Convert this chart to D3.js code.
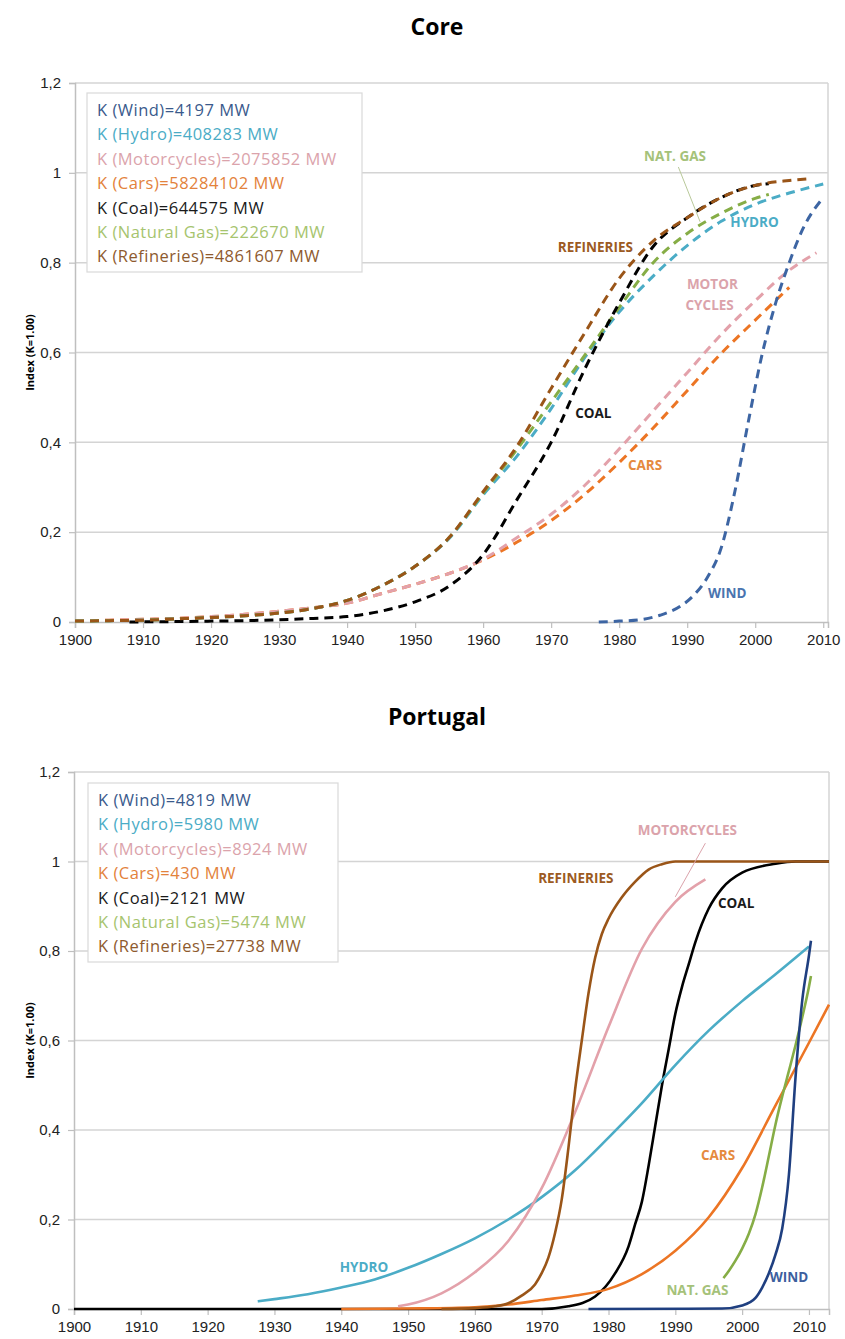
<!DOCTYPE html>
<html>
<head>
<meta charset="utf-8">
<script src="https://cdn.jsdelivr.net/npm/d3@7"></script>
<style>
  body { margin: 0; background: #fff; }
</style>
</head>
<body>
<script>
// ---- Core (dashed curves), [year, index]
const coreWind = [[1977,0],[1980,0.002],[1983,0.005],[1986,0.015],[1989,0.035],[1991,0.06],[1993,0.1],[1995,0.165],[1997,0.29],[1999,0.447],[2001,0.595],[2003,0.71],[2005,0.8],[2007,0.875],[2010,0.945]];
const coreHydro = [[1900,0.002],[1905,0.003],[1910,0.004],[1915,0.007],[1920,0.01],[1925,0.014],[1930,0.02],[1935,0.03],[1940,0.048],[1945,0.08],[1950,0.124],[1955,0.186],[1960,0.283],[1965,0.37],[1970,0.475],[1975,0.59],[1980,0.69],[1985,0.77],[1990,0.838],[1995,0.892],[2000,0.93],[2005,0.955],[2010,0.975]];
const coreMotorcycles = [[1900,0.003],[1905,0.004],[1910,0.006],[1915,0.008],[1920,0.012],[1925,0.017],[1930,0.024],[1935,0.032],[1940,0.042],[1945,0.063],[1950,0.084],[1955,0.108],[1960,0.14],[1965,0.188],[1970,0.24],[1975,0.305],[1980,0.385],[1985,0.47],[1990,0.555],[1995,0.64],[2000,0.715],[2005,0.783],[2009,0.822]];
const coreCars = [[1900,0.003],[1905,0.004],[1910,0.006],[1915,0.008],[1920,0.012],[1925,0.017],[1930,0.024],[1935,0.032],[1940,0.042],[1945,0.063],[1950,0.084],[1955,0.108],[1960,0.138],[1965,0.178],[1970,0.226],[1975,0.285],[1980,0.355],[1985,0.432],[1990,0.515],[1995,0.598],[2000,0.672],[2005,0.745]];
const coreCoal = [[1908,0],[1915,0.001],[1920,0.002],[1925,0.003],[1930,0.005],[1935,0.008],[1940,0.012],[1945,0.024],[1950,0.045],[1955,0.08],[1960,0.15],[1965,0.273],[1970,0.4],[1975,0.565],[1980,0.71],[1985,0.836],[1990,0.9],[1995,0.945],[2000,0.972],[2002,0.976]];
const coreNatGas = [[1900,0.002],[1905,0.003],[1910,0.004],[1915,0.007],[1920,0.01],[1925,0.014],[1930,0.02],[1935,0.03],[1940,0.048],[1945,0.08],[1950,0.124],[1955,0.188],[1960,0.287],[1965,0.385],[1970,0.49],[1975,0.595],[1980,0.7],[1985,0.8],[1990,0.865],[1995,0.91],[2000,0.943],[2002,0.952]];
const coreRefineries = [[1900,0.002],[1905,0.003],[1910,0.004],[1915,0.007],[1920,0.01],[1925,0.014],[1930,0.02],[1935,0.03],[1940,0.048],[1945,0.08],[1950,0.124],[1955,0.188],[1960,0.29],[1965,0.392],[1970,0.52],[1975,0.645],[1980,0.765],[1985,0.848],[1990,0.9],[1995,0.945],[2000,0.972],[2005,0.983],[2008,0.987]];

// ---- Portugal (solid curves)
const ptWind = [[1977,0],[1997,0.001],[2000,0.008],[2002,0.025],[2003,0.048],[2004,0.08],[2005,0.122],[2006,0.18],[2007,0.3],[2008,0.52],[2009,0.69],[2010,0.79],[2010.3,0.823]];
const ptHydro = [[1927.5,0.017],[1930,0.022],[1935,0.033],[1940,0.048],[1945,0.066],[1950,0.092],[1955,0.123],[1960,0.158],[1965,0.2],[1970,0.25],[1975,0.31],[1980,0.383],[1985,0.46],[1990,0.545],[1995,0.622],[2000,0.688],[2005,0.748],[2010,0.81]];
const ptMotorcycles = [[1948.5,0.006],[1950,0.01],[1955,0.035],[1960,0.082],[1965,0.152],[1970,0.27],[1975,0.44],[1980,0.63],[1985,0.805],[1990,0.91],[1994.5,0.96]];
const ptCars = [[1940,0],[1950,0.001],[1960,0.004],[1965,0.01],[1970,0.02],[1975,0.03],[1980,0.045],[1985,0.078],[1990,0.13],[1995,0.205],[2000,0.315],[2005,0.455],[2010,0.595],[2013,0.68]];
const ptCoal = [[1900,0],[1970,0],[1974,0.006],[1978,0.028],[1981,0.08],[1983,0.14],[1984,0.19],[1985,0.24],[1986,0.32],[1987,0.41],[1988,0.5],[1989,0.58],[1990,0.66],[1991,0.72],[1992,0.77],[1993,0.82],[1995,0.895],[1997,0.94],[2000,0.975],[2005,0.995],[2008,1],[2013,1]];
const ptNatGas = [[1997.2,0.069],[1998,0.085],[1999,0.108],[2000,0.135],[2001,0.168],[2002,0.212],[2003,0.272],[2004,0.342],[2005,0.413],[2006,0.475],[2007,0.532],[2008,0.59],[2009,0.652],[2010,0.72],[2010.3,0.744]];
const ptRefineries = [[1955,0],[1960,0.002],[1963,0.006],[1965,0.013],[1967,0.03],[1969,0.055],[1970,0.08],[1971,0.115],[1972,0.17],[1973,0.245],[1974,0.36],[1975,0.49],[1976,0.6],[1977,0.705],[1978,0.785],[1979,0.838],[1980,0.872],[1982,0.92],[1984,0.955],[1986,0.982],[1988,0.994],[1990,1],[2013,1]];

const yTicks = [0, 0.2, 0.4, 0.6, 0.8, 1, 1.2];
const xTicks = [1900, 1910, 1920, 1930, 1940, 1950, 1960, 1970, 1980, 1990, 2000, 2010];

const coreLegend = ['K (Wind)=4197 MW', 'K (Hydro)=408283 MW', 'K (Motorcycles)=2075852 MW', 'K (Cars)=58284102 MW', 'K (Coal)=644575 MW', 'K (Natural Gas)=222670 MW', 'K (Refineries)=4861607 MW'];
const ptLegend = ['K (Wind)=4819 MW', 'K (Hydro)=5980 MW', 'K (Motorcycles)=8924 MW', 'K (Cars)=430 MW', 'K (Coal)=2121 MW', 'K (Natural Gas)=5474 MW', 'K (Refineries)=27738 MW'];

const colors = {
    wind: '#3d65a3', hydro: '#4bacc6', moto: '#e3a1aa', cars: '#ec7524',
    coal: '#000000', gas: '#86ad46', ref: '#9a5518'
};
const legendColors = ['#3a5a8c', '#4bacc6', '#dba3ab', '#e3823b', '#1a1a1a', '#a6c46e', '#8e5a2e'];

const svg = d3.select('body').append('svg')
    .attr('width', 845).attr('height', 1339);

function drawPanel(p) {
    const x = d3.scaleLinear().domain([1900, p.xMax]).range([p.left, p.right]);
    const y = d3.scaleLinear().domain([0, 1.2]).range([p.bottom, p.top]);
    const g = svg.append('g');

    g.append('text').attr('x', 437).attr('y', p.titleY)
        .attr('text-anchor', 'middle')
        .style('font-family', '"Open Sans", sans-serif')
        .style('font-weight', 700).style('font-size', '23px')
        .text(p.title);

    // grid
    g.selectAll('.grid').data(yTicks.filter(d => d > 0)).enter().append('line')
        .attr('x1', p.left).attr('x2', p.right)
        .attr('y1', d => y(d)).attr('y2', d => y(d))
        .attr('stroke', '#d4d4d4').attr('stroke-width', 1.5);
    g.append('line').attr('x1', p.right).attr('x2', p.right)
        .attr('y1', p.top).attr('y2', p.bottom)
        .attr('stroke', '#d4d4d4').attr('stroke-width', 1.5);

    const yAxis = g.append('g').attr('transform', 'translate(' + p.left + ',0)')
        .call(d3.axisLeft(y).tickValues(yTicks).tickSize(6).tickPadding(8)
            .tickFormat(d => String(d).replace('.', ',')));
    const xAxis = g.append('g').attr('transform', 'translate(0,' + p.bottom + ')')
        .call(d3.axisBottom(x).tickValues(xTicks).tickSize(6).tickPadding(6)
            .tickFormat(d3.format('d')));
    [yAxis, xAxis].forEach(a => {
        a.select('.domain').attr('stroke', '#bfbfbf').attr('stroke-width', 1.5);
        a.selectAll('.tick line').attr('stroke', '#bfbfbf').attr('stroke-width', 1.2);
        a.selectAll('.tick text').attr('fill', '#222')
            .style('font-family', '"Liberation Sans Narrow", "Liberation Sans", sans-serif')
            .style('font-size', '15px');
    });

    g.append('text')
        .attr('transform', 'translate(34,' + ((p.top + p.bottom) / 2) + ') rotate(-90)')
        .attr('text-anchor', 'middle')
        .style('font-family', '"Open Sans", sans-serif')
        .style('font-weight', 700).style('font-size', '11px')
        .text('Index (K=1.00)');

    // curves
    const line = d3.line().x(d => x(d[0])).y(d => y(d[1])).curve(d3.curveMonotoneX);
    p.series.forEach(s => {
        g.append('path').datum(s.data)
            .attr('d', line)
            .attr('fill', 'none')
            .attr('stroke', s.color)
            .attr('stroke-width', p.dashed ? 3 : 2.6)
            .attr('stroke-dasharray', p.dashed ? '9,6' : null);
    });

    // legend
    const lg = g.append('g');
    lg.append('rect').attr('x', p.legend.x).attr('y', p.legend.y)
        .attr('width', p.legend.w).attr('height', p.legend.h)
        .attr('fill', '#fff').attr('stroke', '#d9d9d9').attr('stroke-width', 1.2);
    lg.selectAll('text').data(p.legendText).enter().append('text')
        .attr('x', p.legend.x + 10)
        .attr('y', (d, i) => p.legend.y + 23 + i * 24.4)
        .attr('fill', (d, i) => legendColors[i])
        .style('font-family', '"Open Sans", sans-serif')
        .style('font-size', '16.5px')
        .style('letter-spacing', '0.5px')
        .text(d => d);

    // annotations
    p.leaders.forEach(l => {
        g.append('line')
            .attr('x1', x(l[0])).attr('y1', y(l[1]))
            .attr('x2', x(l[2])).attr('y2', y(l[3]))
            .attr('stroke', l[4]).attr('stroke-width', 1);
    });
    p.labels.forEach(l => {
        g.append('text')
            .attr('x', x(l[1])).attr('y', y(l[2]))
            .attr('dy', '0.35em')
            .attr('text-anchor', 'middle')
            .attr('fill', l[3])
            .style('font-family', '"Open Sans", sans-serif')
            .style('font-weight', 700).style('font-size', '13.5px')
            .text(l[0]);
    });
}

drawPanel({
    title: 'Core', titleY: 35,
    left: 75, right: 828, top: 83, bottom: 622, xMax: 2010.7, dashed: true,
    series: [
        { data: coreCars, color: colors.cars },
        { data: coreMotorcycles, color: colors.moto },
        { data: coreHydro, color: colors.hydro },
        { data: coreNatGas, color: colors.gas },
        { data: coreCoal, color: colors.coal },
        { data: coreRefineries, color: colors.ref },
        { data: coreWind, color: colors.wind }
    ],
    legend: { x: 87, y: 93, w: 275, h: 179 },
    legendText: coreLegend,
    leaders: [[1988.7, 1.013, 1991.9, 0.891, '#b9c99a']],
    labels: [
        ['NAT. GAS', 1988.2, 1.036, '#a5c27a'],
        ['HYDRO', 1999.9, 0.889, '#4bacc6'],
        ['REFINERIES', 1976.5, 0.835, '#9c5a22'],
        ['MOTOR', 1993.7, 0.751, '#dba3ab'],
        ['CYCLES', 1993.3, 0.706, '#dba3ab'],
        ['COAL', 1976.2, 0.465, '#1a1a1a'],
        ['CARS', 1983.8, 0.35, '#e58a3e'],
        ['WIND', 1995.9, 0.065, '#4a74b0']
    ]
});

drawPanel({
    title: 'Portugal', titleY: 725,
    left: 74, right: 829, top: 772, bottom: 1309, xMax: 2013, dashed: false,
    series: [
        { data: ptCoal, color: colors.coal },
        { data: ptCars, color: colors.cars },
        { data: ptHydro, color: colors.hydro },
        { data: ptMotorcycles, color: colors.moto },
        { data: ptRefineries, color: colors.ref },
        { data: ptNatGas, color: colors.gas },
        { data: ptWind, color: '#1f3f80' }
    ],
    legend: { x: 88, y: 783, w: 250, h: 179 },
    legendText: ptLegend,
    leaders: [[1994.5, 1.041, 1990, 0.921, '#dba3ab']],
    labels: [
        ['MOTORCYCLES', 1991.8, 1.07, '#dba3ab'],
        ['REFINERIES', 1975.1, 0.963, '#9c5a22'],
        ['COAL', 1999.1, 0.907, '#1a1a1a'],
        ['HYDRO', 1943.4, 0.094, '#4bacc6'],
        ['CARS', 1996.4, 0.344, '#e58a3e'],
        ['NAT. GAS', 1993.3, 0.042, '#a5c27a'],
        ['WIND', 2007, 0.072, '#3d5f9e']
    ]
});
</script>
</body>
</html>
